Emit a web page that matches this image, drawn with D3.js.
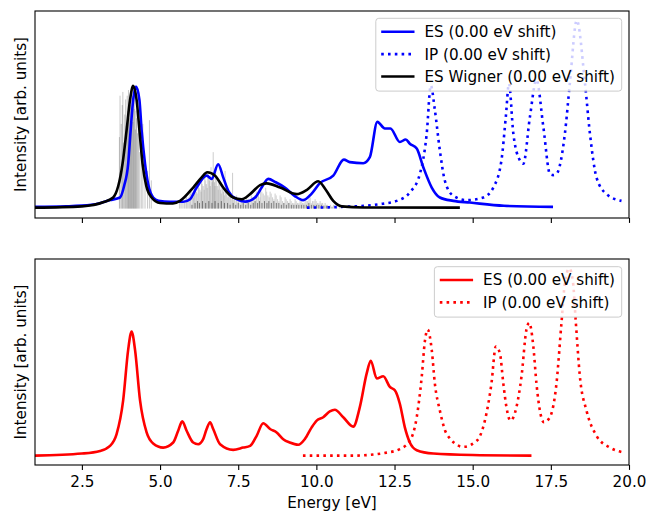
<!DOCTYPE html>
<html>
<head>
<meta charset="utf-8">
<script src="https://cdn.jsdelivr.net/npm/d3@7"></script>
<style>
  html, body { margin: 0; padding: 0; background: #ffffff; }
  svg { display: block; font-family: "DejaVu Sans", sans-serif; }
</style>
</head>
<body>
<svg id="chart" width="646" height="512"></svg>
<script>
// ---------------- DATA (energy in eV, intensity in arb. units) ----------------
const xTicks = [2.5, 5.0, 7.5, 10.0, 12.5, 15.0, 17.5, 20.0];
const xTickLabels = ["2.5", "5.0", "7.5", "10.0", "12.5", "15.0", "17.5", "20.0"];
const xDomain = [1, 20];

const legendTop = ["ES (0.00 eV shift)", "IP (0.00 eV shift)", "ES Wigner (0.00 eV shift)"];
const legendBottom = ["ES (0.00 eV shift)", "IP (0.00 eV shift)"];

// Top panel: ES (solid blue)
const topES = [
  [1.00, 0.009], [2.00, 0.012], [2.80, 0.020], [3.10, 0.030], [3.40, 0.045], [3.72, 0.059],
  [3.85, 0.120], [3.98, 0.238], [4.06, 0.417], [4.14, 0.578], [4.23, 0.648], [4.34, 0.578],
  [4.41, 0.417], [4.52, 0.238], [4.62, 0.130], [4.78, 0.059], [4.95, 0.042], [5.32, 0.036],
  [5.74, 0.036], [5.96, 0.050], [6.17, 0.112], [6.49, 0.175], [6.65, 0.158], [6.86, 0.236],
  [7.02, 0.166], [7.18, 0.095], [7.45, 0.050], [7.72, 0.037], [8.04, 0.059], [8.25, 0.112],
  [8.46, 0.158], [8.70, 0.140], [8.99, 0.112], [9.30, 0.068], [9.58, 0.045], [9.85, 0.080],
  [10.11, 0.135], [10.54, 0.175], [10.88, 0.260], [11.07, 0.247], [11.50, 0.241], [11.71, 0.273],
  [11.95, 0.461], [12.19, 0.426], [12.37, 0.426], [12.67, 0.354], [12.86, 0.367], [12.99, 0.345],
  [13.21, 0.319], [13.42, 0.220], [13.69, 0.112], [13.95, 0.059], [14.38, 0.041], [14.91, 0.032],
  [16.00, 0.015], [17.57, 0.009]
];

// Top panel: IP (dotted blue)
const topIP = [
  [9.70, 0.005], [10.80, 0.009], [12.00, 0.023], [12.57, 0.041], [12.99, 0.086], [13.31, 0.184],
  [13.53, 0.399], [13.66, 0.655], [13.79, 0.524], [13.95, 0.309], [14.11, 0.148], [14.38, 0.068],
  [14.81, 0.045], [15.34, 0.059], [15.66, 0.112], [15.92, 0.256], [16.06, 0.488], [16.16, 0.664],
  [16.30, 0.399], [16.51, 0.256], [16.62, 0.238], [16.83, 0.486], [17.04, 0.685], [17.26, 0.434],
  [17.47, 0.184], [17.57, 0.178], [17.68, 0.184], [17.95, 0.399], [18.11, 0.669], [18.33, 1.000],
  [18.59, 0.669], [18.75, 0.399], [18.96, 0.166], [19.28, 0.077], [19.76, 0.041]
];

// Top panel: ES Wigner (solid black)
const topWigner = [
  [1.00, 0.005], [2.50, 0.012], [3.20, 0.035], [3.50, 0.059], [3.80, 0.238], [3.93, 0.417],
  [4.04, 0.578], [4.14, 0.653], [4.25, 0.578], [4.34, 0.417], [4.44, 0.238], [4.56, 0.120],
  [4.73, 0.059], [5.00, 0.030], [5.41, 0.027], [5.64, 0.041], [6.06, 0.112], [6.33, 0.166],
  [6.51, 0.193], [6.76, 0.175], [7.02, 0.112], [7.34, 0.059], [7.61, 0.050], [7.88, 0.077],
  [8.20, 0.125], [8.41, 0.134], [8.84, 0.112], [9.37, 0.077], [9.70, 0.100], [10.06, 0.145],
  [10.30, 0.100], [10.54, 0.041], [10.81, 0.012], [11.50, 0.006], [14.59, 0.005]
];

// Top panel: Wigner stick spectrum [energy, intensity]
const sticksBand1 = [
  [3.70, 0.38], [3.72, 0.60], [3.76, 0.45], [3.79, 0.55], [3.81, 0.62], [3.84, 0.35], [3.87, 0.50],
  [3.90, 0.58], [3.92, 0.44], [3.95, 0.60], [3.97, 0.52], [3.99, 0.63], [4.01, 0.48], [4.03, 0.58],
  [4.05, 0.55], [4.07, 0.62], [4.09, 0.50], [4.11, 0.60], [4.13, 0.46], [4.15, 0.57], [4.17, 0.53],
  [4.19, 0.60], [4.21, 0.42], [4.23, 0.52], [4.25, 0.48], [4.28, 0.40], [4.31, 0.45], [4.35, 0.30],
  [4.40, 0.36], [4.45, 0.45], [4.52, 0.25], [4.60, 0.20], [4.66, 0.47], [4.72, 0.15]
];
const sticksBand2 = [
  [5.62, 0.03], [5.70, 0.05], [5.78, 0.04], [5.85, 0.08], [5.92, 0.06], [5.98, 0.10], [6.05, 0.07],
  [6.10, 0.12], [6.16, 0.09], [6.22, 0.14], [6.28, 0.10], [6.33, 0.16], [6.38, 0.12], [6.43, 0.18],
  [6.48, 0.13], [6.53, 0.20], [6.58, 0.15], [6.63, 0.22], [6.68, 0.17], [6.70, 0.30], [6.74, 0.14],
  [6.78, 0.19], [6.83, 0.12], [6.88, 0.16], [6.93, 0.10], [6.98, 0.13], [7.03, 0.09], [7.08, 0.20],
  [7.14, 0.08], [7.20, 0.10], [7.26, 0.06], [7.32, 0.19], [7.38, 0.05], [7.45, 0.07], [7.52, 0.04],
  [7.60, 0.05], [7.68, 0.04], [7.76, 0.06], [7.84, 0.05], [7.92, 0.07], [8.00, 0.06], [8.08, 0.09],
  [8.15, 0.07], [8.22, 0.10], [8.30, 0.08], [8.38, 0.11], [8.45, 0.07], [8.52, 0.09], [8.60, 0.06],
  [8.68, 0.08], [8.76, 0.05], [8.84, 0.07], [8.92, 0.04], [9.00, 0.06], [9.08, 0.04], [9.16, 0.05],
  [9.24, 0.03], [9.32, 0.05], [9.40, 0.03], [9.48, 0.04], [9.56, 0.03], [9.64, 0.05], [9.72, 0.04],
  [9.80, 0.06], [9.88, 0.04], [9.96, 0.05], [10.04, 0.03], [10.12, 0.04], [10.20, 0.03], [10.28, 0.03],
  [10.36, 0.02], [10.45, 0.02], [10.55, 0.02], [10.65, 0.015], [10.75, 0.01]
];
const sticksFill = [
  [5.66, 0.04], [5.74, 0.03], [5.82, 0.06], [5.88, 0.05], [5.95, 0.08], [6.02, 0.09], [6.07, 0.06],
  [6.13, 0.10], [6.19, 0.08], [6.25, 0.11], [6.31, 0.09], [6.35, 0.13], [6.41, 0.10], [6.46, 0.15],
  [6.51, 0.11], [6.56, 0.17], [6.61, 0.12], [6.66, 0.14], [6.72, 0.18], [6.76, 0.12], [6.81, 0.15],
  [6.86, 0.10], [6.91, 0.13], [6.96, 0.08], [7.01, 0.11], [7.06, 0.07], [7.11, 0.09], [7.17, 0.06],
  [7.23, 0.08], [7.29, 0.05], [7.35, 0.06], [7.42, 0.04], [7.49, 0.05], [7.56, 0.03], [7.64, 0.04],
  [7.72, 0.03], [7.80, 0.05], [7.88, 0.04], [7.96, 0.06], [8.04, 0.07], [8.11, 0.08], [8.19, 0.06],
  [8.26, 0.09], [8.34, 0.07], [8.41, 0.09], [8.49, 0.06], [8.56, 0.08], [8.64, 0.05], [8.72, 0.07],
  [8.80, 0.04], [8.88, 0.06], [8.96, 0.03], [9.04, 0.05], [9.12, 0.03], [9.20, 0.04], [9.28, 0.03],
  [9.36, 0.04], [9.44, 0.03], [9.52, 0.04], [9.60, 0.03], [9.68, 0.04], [9.76, 0.05], [9.84, 0.03],
  [9.92, 0.04], [10.00, 0.04], [10.08, 0.03], [10.16, 0.03], [10.24, 0.02], [10.32, 0.02], [10.41, 0.015]
];
const sticksBase = [
  [6.02, 0.02], [6.12, 0.03], [6.20, 0.04], [6.26, 0.03], [6.36, 0.04], [6.46, 0.03], [6.56, 0.04],
  [6.66, 0.03], [6.76, 0.04], [6.86, 0.03], [6.96, 0.04], [7.06, 0.03], [7.16, 0.03], [7.24, 0.02],
  [7.34, 0.03], [7.42, 0.02], [7.50, 0.03], [7.58, 0.02], [7.66, 0.03], [7.74, 0.02], [7.82, 0.03],
  [7.90, 0.02], [7.98, 0.03], [8.04, 0.04], [8.12, 0.03], [8.18, 0.04], [8.26, 0.03], [8.34, 0.04],
  [8.42, 0.03], [8.48, 0.04], [8.56, 0.03], [8.64, 0.04], [8.72, 0.03], [8.80, 0.03], [8.88, 0.02],
  [8.96, 0.03], [9.04, 0.02], [9.12, 0.03], [9.20, 0.02], [9.28, 0.02], [9.36, 0.02], [9.44, 0.02],
  [9.52, 0.02], [9.60, 0.02], [9.68, 0.02], [9.76, 0.03], [9.84, 0.02], [9.92, 0.02], [10.00, 0.02],
  [10.08, 0.02], [10.16, 0.02], [10.24, 0.015], [10.32, 0.015], [10.40, 0.01], [10.50, 0.01]
];

// Bottom panel: ES (solid red)
const botES = [
  [1.00, 0.000], [2.50, 0.011], [3.08, 0.025], [3.40, 0.052], [3.61, 0.115], [3.82, 0.295],
  [3.98, 0.565], [4.09, 0.663], [4.20, 0.565], [4.36, 0.295], [4.57, 0.124], [4.78, 0.065],
  [5.10, 0.043], [5.42, 0.070], [5.58, 0.133], [5.71, 0.183], [5.85, 0.133], [6.06, 0.070],
  [6.22, 0.061], [6.38, 0.088], [6.49, 0.142], [6.60, 0.178], [6.70, 0.142], [6.92, 0.061],
  [7.34, 0.031], [7.66, 0.043], [7.88, 0.052], [8.09, 0.106], [8.30, 0.173], [8.52, 0.142],
  [8.73, 0.124], [8.94, 0.088], [9.15, 0.070], [9.42, 0.058], [9.63, 0.088], [9.85, 0.151],
  [10.01, 0.187], [10.22, 0.205], [10.43, 0.236], [10.59, 0.245], [10.86, 0.205], [11.18, 0.155],
  [11.39, 0.259], [11.61, 0.439], [11.74, 0.507], [11.93, 0.412], [12.14, 0.424], [12.35, 0.367],
  [12.51, 0.349], [12.67, 0.277], [12.83, 0.151], [12.99, 0.070], [13.21, 0.029], [13.74, 0.011],
  [15.00, 0.003], [16.88, 0.000]
];

// Bottom panel: IP (dotted red)
const botIP = [
  [9.57, 0.000], [11.18, 0.000], [12.25, 0.016], [12.67, 0.035], [12.99, 0.079], [13.21, 0.205],
  [13.37, 0.421], [13.47, 0.610], [13.56, 0.673], [13.69, 0.565], [13.79, 0.385], [13.95, 0.241],
  [14.17, 0.115], [14.70, 0.047], [15.13, 0.079], [15.39, 0.187], [15.60, 0.385], [15.74, 0.583],
  [15.87, 0.547], [15.98, 0.385], [16.08, 0.259], [16.21, 0.187], [16.40, 0.259], [16.56, 0.421],
  [16.72, 0.673], [16.81, 0.709], [16.94, 0.583], [17.04, 0.385], [17.17, 0.223], [17.28, 0.178],
  [17.47, 0.205], [17.68, 0.385], [17.84, 0.709], [17.95, 0.924], [18.09, 1.000], [18.21, 0.924],
  [18.30, 0.709], [18.43, 0.421], [18.64, 0.241], [18.96, 0.106], [19.39, 0.043], [19.84, 0.016]
];

// ---------------- LAYOUT ----------------
const FONT = 15.2;
const LW = 2.6;
const DOT = "2.6,4.2";
const svg = d3.select("#chart");
const left = 35, right = 629;
const panels = [
  { top: 11, bottom: 218, showLabels: false },
  { top: 259, bottom: 465, showLabels: true }
];

const x = d3.scaleLinear().domain(xDomain).range([left, right]);
const yDom = [-0.05, 1.05];
const yTop = d3.scaleLinear().domain(yDom).range([panels[0].bottom, panels[0].top]);
const yBot = d3.scaleLinear().domain(yDom).range([panels[1].bottom, panels[1].top]);

const defs = svg.append("defs");
panels.forEach((p, i) => {
  defs.append("clipPath").attr("id", "clip" + i)
    .append("rect").attr("x", left).attr("y", p.top)
    .attr("width", right - left).attr("height", p.bottom - p.top);
});

function lineGen(y) {
  return d3.line().x(d => x(d[0])).y(d => y(d[1])).curve(d3.curveMonotoneX);
}

// ---------- top panel ----------
const g0 = svg.append("g").attr("clip-path", "url(#clip0)");
function drawSticks(data, op) {
  g0.append("g").selectAll("line").data(data).join("line")
    .attr("x1", d => x(d[0])).attr("x2", d => x(d[0]))
    .attr("y1", yTop(0)).attr("y2", d => yTop(d[1]))
    .attr("stroke", "#000").attr("stroke-width", 1).attr("stroke-opacity", op);
}
drawSticks(sticksBand1, 0.22);
drawSticks(sticksBand2, 0.2);
drawSticks(sticksFill, 0.15);
drawSticks(sticksBase, 0.45);

g0.append("path").datum(topES).attr("d", lineGen(yTop))
  .attr("fill", "none").attr("stroke", "#0000ff").attr("stroke-width", LW).attr("stroke-linejoin", "round");
g0.append("path").datum(topIP).attr("d", lineGen(yTop))
  .attr("fill", "none").attr("stroke", "#0000ff").attr("stroke-width", LW)
  .attr("stroke-dasharray", DOT);
g0.append("path").datum(topWigner).attr("d", lineGen(yTop))
  .attr("fill", "none").attr("stroke", "#000000").attr("stroke-width", LW).attr("stroke-linejoin", "round");

// ---------- bottom panel ----------
const g1 = svg.append("g").attr("clip-path", "url(#clip1)");
g1.append("path").datum(botES).attr("d", lineGen(yBot))
  .attr("fill", "none").attr("stroke", "#ff0000").attr("stroke-width", LW).attr("stroke-linejoin", "round");
g1.append("path").datum(botIP).attr("d", lineGen(yBot))
  .attr("fill", "none").attr("stroke", "#ff0000").attr("stroke-width", LW)
  .attr("stroke-dasharray", DOT);

// ---------- axes, frames ----------
panels.forEach((p, i) => {
  const ax = d3.axisBottom(x).tickValues(xTicks).tickSize(4.9).tickPadding(6)
    .tickFormat((d, k) => p.showLabels ? xTickLabels[k] : "");
  const ga = svg.append("g").attr("transform", `translate(0,${p.bottom})`).call(ax);
  ga.select(".domain").remove();
  ga.selectAll(".tick line").attr("stroke", "#000").attr("stroke-width", 1.1);
  ga.selectAll(".tick text").attr("font-size", FONT).attr("fill", "#000")
    .attr("font-family", "DejaVu Sans");

  svg.append("rect").attr("x", left).attr("y", p.top)
    .attr("width", right - left).attr("height", p.bottom - p.top)
    .attr("fill", "none").attr("stroke", "#000").attr("stroke-width", 1.1);

  svg.append("text")
    .attr("transform", `translate(25.5,${(p.top + p.bottom) / 2}) rotate(-90)`)
    .attr("text-anchor", "middle").attr("font-size", FONT).attr("fill", "#000")
    .text("Intensity [arb. units]");
});

svg.append("text").attr("x", (left + right) / 2).attr("y", 508)
  .attr("text-anchor", "middle").attr("font-size", FONT).attr("fill", "#000")
  .text("Energy [eV]");

// ---------- legends ----------
function legend(items, styles, boxTop, rowY0) {
  const rowH = 22.4;
  const g = svg.append("g");
  const texts = items.map((t, i) => g.append("text")
    .attr("font-size", FONT).attr("fill", "#000").attr("y", rowY0 + i * rowH + 5.4).text(t));
  const tw = d3.max(texts, t => t.node().getComputedTextLength());
  const boxRight = 621.7;
  const boxLeft = boxRight - 6.7 - tw - 10 - 33.3 - 5.4;
  const boxH = items.length * rowH + 5.6;
  g.insert("rect", ":first-child")
    .attr("x", boxLeft).attr("y", boxTop).attr("width", boxRight - boxLeft).attr("height", boxH)
    .attr("rx", 3).attr("fill", "#fff").attr("fill-opacity", 0.8)
    .attr("stroke", "#cccccc").attr("stroke-width", 1);
  texts.forEach(t => t.attr("x", boxLeft + 5.4 + 33.3 + 10));
  items.forEach((t, i) => {
    const s = styles[i];
    g.append("line").attr("x1", boxLeft + 5.4).attr("x2", boxLeft + 5.4 + 33.3)
      .attr("y1", rowY0 + i * rowH).attr("y2", rowY0 + i * rowH)
      .attr("stroke", s.color).attr("stroke-width", LW)
      .attr("stroke-dasharray", s.dash || null);
  });
}
legend(legendTop, [
  { color: "#0000ff" }, { color: "#0000ff", dash: DOT }, { color: "#000000" }
], 18.3, 31.7);
legend(legendBottom, [
  { color: "#ff0000" }, { color: "#ff0000", dash: DOT }
], 266.7, 280);
</script>
</body>
</html>
